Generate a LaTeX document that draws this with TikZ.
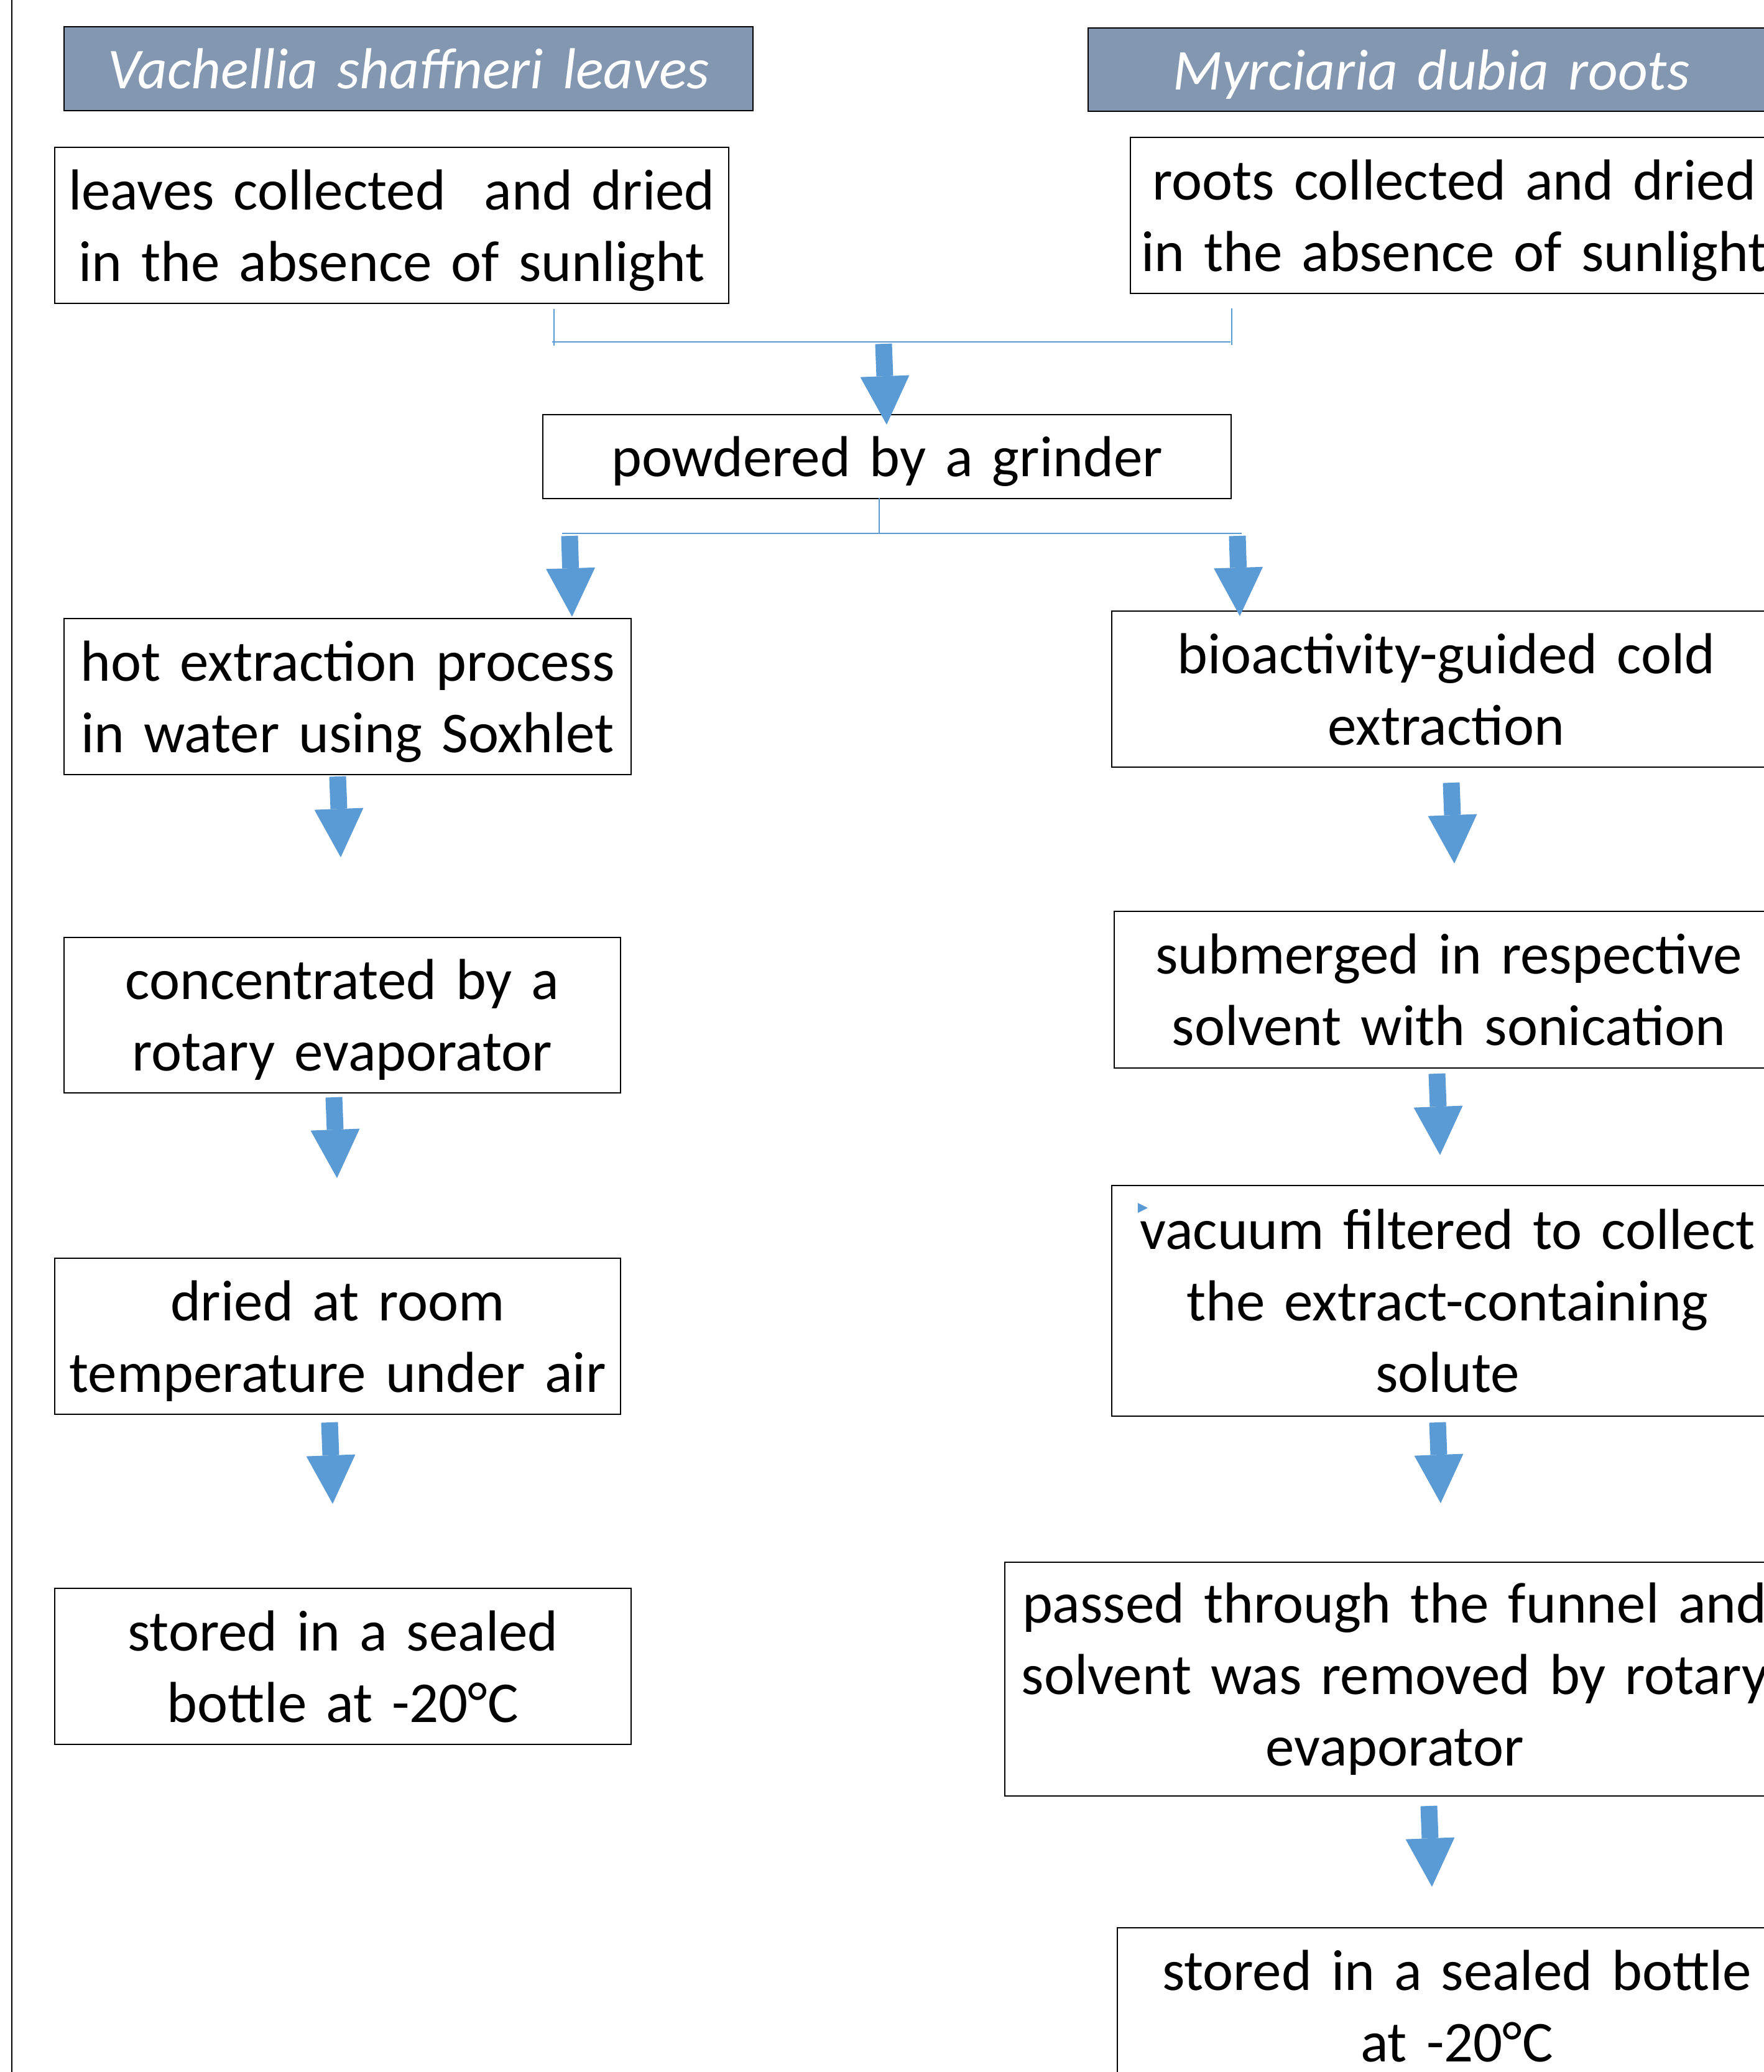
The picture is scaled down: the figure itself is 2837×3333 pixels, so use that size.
\documentclass[tikz,border=0pt]{standalone}
\usepackage{fontspec}
\setmainfont{Carlito}
\usetikzlibrary{arrows.meta}
\definecolor{hdr}{HTML}{8497B0}
\definecolor{arrblue}{HTML}{5B9BD5}
\newcommand\nodepth[1]{\raisebox{0pt}[\height][0pt]{#1}}
\begin{document}
\begin{tikzpicture}[x=0.1pt,y=-0.1pt,
  box/.style={draw=black, line width=0.22pt, fill=white, inner sep=0pt, align=center, anchor=north west, font=\fontsize{9.3}{11.5}\selectfont},
  hdrbox/.style={box, fill=hdr, text=white, font=\fontsize{9.3}{11.5}\selectfont\itshape},
  link/.style={draw=arrblue, line width=0.15pt},
  bigarrow/.style={draw=arrblue, line width=2.7pt, -{Triangle[width=7.9pt,length=7.8pt,line width=0pt]}}]
\useasboundingbox (0,0) rectangle (2837,3333);
\clip (0,0) rectangle (2837,3333);
\fill[white] (0,0) rectangle (2837,3333);
% left page border
\coordinate (bt) at (19,0);
\coordinate (bb) at (19,3333);
\draw[line width=0.25pt] (bt) -- (bb);

% headers
\node[hdrbox, text width=110.8pt, minimum height=13.5pt] (HL) at (102,42) {\nodepth{Vachellia shaffneri leaves}};
\node[hdrbox, text width=110.4pt, minimum height=13.4pt] (HR) at (1749,44) {\nodepth{Myrciaria dubia roots}};

% left column
\node[box, text width=108.4pt, minimum height=25.1pt] (L1) at (87,236) {leaves collected\ \ and dried\\\nodepth{in the absence of sunlight}};
\node[box, text width=91.2pt, minimum height=25.1pt] (L2) at (102,994) {hot extraction process\\\nodepth{in water using Soxhlet}};
\node[box, text width=89.5pt, minimum height=25.0pt] (L3) at (102,1507) {concentrated by a\\\nodepth{rotary evaporator}};
\node[box, text width=91.0pt, minimum height=25.1pt] (L4) at (87,2023) {dried at room\\\nodepth{temperature under air}};
\node[box, text width=92.7pt, minimum height=25.1pt] (L5) at (87,2554) {stored in a sealed\\bottle at -20°C};

% middle
\node[box, text width=110.7pt, minimum height=13.5pt] (P) at (872,666) {\nodepth{powdered by a grinder}};

% right column
\node[box, text width=104.2pt, minimum height=25.1pt] (R1) at (1817,220) {roots collected and dried\\\nodepth{in the absence of sunlight}};
\node[box, text width=107.6pt, minimum height=25.1pt] (R2) at (1787,982) {bioactivity-guided cold\\extraction};
\node[box, text width=107.6pt, minimum height=25.2pt] (R3) at (1791,1465) {submerged in respective\\solvent with sonication};
\node[box, text width=108.0pt, minimum height=37.1pt] (R4) at (1787,1906) {vacuum filtered to collect\\the extract-containing\\solute};
\node[box, text width=125.4pt, minimum height=37.6pt] (R5) at (1615,2512) {passed through the funnel and\\solvent was removed by rotary\\evaporator};
\node[box, text width=109.2pt, minimum height=25.1pt] (R6) at (1796,3100) {stored in a sealed bottle\\at -20°C};

% small marker in R4
\fill[arrblue] (1830,1935) -- (1830,1951) -- (1846,1943) -- cycle;

% thin joining lines
\coordinate (j1a) at (891,497);  \coordinate (j1b) at (891,556);
\coordinate (j2a) at (1981,496); \coordinate (j2b) at (1981,555);
\coordinate (j3a) at (888,550);  \coordinate (j3b) at (1979,550);
\draw[link] (j1a) -- (j1b);
\draw[link] (j2a) -- (j2b);
\draw[link] (j3a) -- (j3b);
\coordinate (k1a) at (1414,801); \coordinate (k1b) at (1414,858);
\coordinate (k2a) at (904,858);  \coordinate (k2b) at (1997,858);
\draw[link] (k1a) -- (k1b);
\draw[link] (k2a) -- (k2b);

% block arrows
\coordinate (a1s) at (1421,553);  \coordinate (a1e) at (1426,683);
\coordinate (a2s) at (916,862);   \coordinate (a2e) at (920,992);
\coordinate (a3s) at (1990,862);  \coordinate (a3e) at (1994,991);
\coordinate (a4s) at (543,1249);  \coordinate (a4e) at (548,1379);
\coordinate (a5s) at (537,1765);  \coordinate (a5e) at (542,1895);
\coordinate (a6s) at (530,2288);  \coordinate (a6e) at (535,2419);
\coordinate (a7s) at (2334,1259); \coordinate (a7e) at (2339,1389);
\coordinate (a8s) at (2311,1727); \coordinate (a8e) at (2316,1858);
\coordinate (a9s) at (2312,2288); \coordinate (a9e) at (2317,2418);
\coordinate (a10s) at (2298,2905); \coordinate (a10e) at (2303,3035);
\foreach \i in {1,...,10} {\draw[bigarrow] (a\i s) -- (a\i e);}
\end{tikzpicture}
\end{document}
